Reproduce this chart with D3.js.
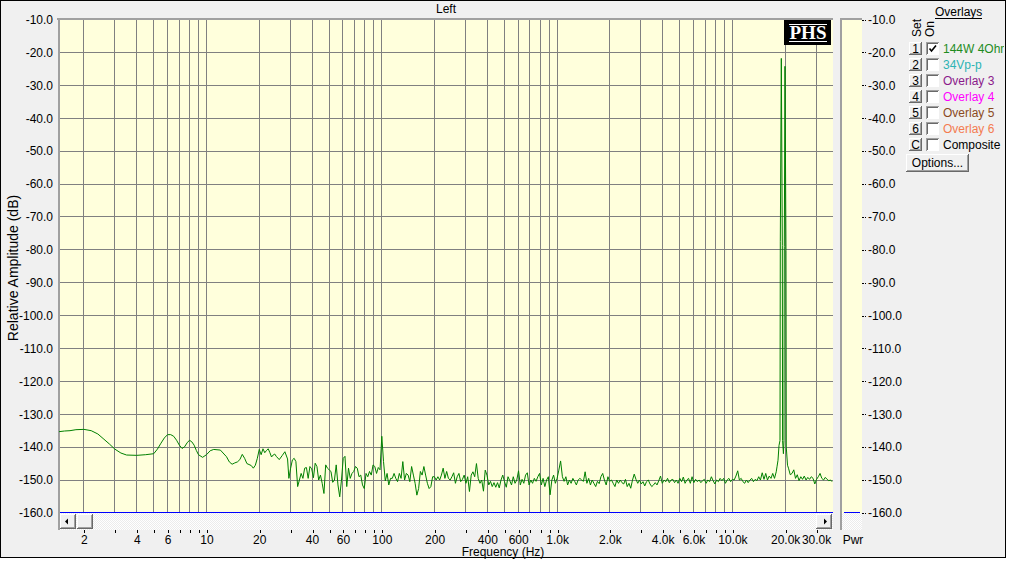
<!DOCTYPE html>
<html><head><meta charset="utf-8">
<script src="https://cdn.jsdelivr.net/npm/d3@7/dist/d3.min.js"></script>
<style>
html,body{margin:0;padding:0;background:#fff;}
svg{display:block;font-family:"Liberation Sans",Arial,sans-serif;font-size:12px;}
</style></head><body>
<svg id="c" width="1022" height="570"></svg>
<script>
// ---------------- data ----------------
const chartTitle = "Left";
const xTitle = "Frequency (Hz)";
const yTitle = "Relative Amplitude (dB)";
const pwrLabel = "Pwr";
const yTicks = [-10,-20,-30,-40,-50,-60,-70,-80,-90,-100,-110,-120,-130,-140,-150,-160];
const xGridHz = [2,3,4,5,6,7,8,9,10,20,30,40,50,60,70,80,90,100,200,300,400,500,600,700,800,900,
  1000,2000,3000,4000,5000,6000,7000,8000,9000,10000,20000,30000];
const xLabelHz = [2,4,6,10,20,40,60,100,200,400,600,1000,2000,4000,6000,10000,20000,30000];
const xLabelText = ["2","4","6","10","20","40","60","100","200","400","600","1.0k","2.0k","4.0k","6.0k","10.0k","20.0k","30.0k"];
const overlaySets = ["1","2","3","4","5","6","C"];
const overlayNames = ["144W 4Ohm","34Vp-p","Overlay 3","Overlay 4","Overlay 5","Overlay 6","Composite"];
const overlayColors = ["#1e8c1e","#2db4b4","#8b1a8b","#ff00ff","#8b4a1e","#f47c50","#000000"];
const overlayOn = [true,false,false,false,false,false,false];
const freqRange = [1.441, 36990];
const dbRange = [-160, -10];

// spectrum trace: [frequency Hz, level dB]
const lowBand = [
 [1.441,-135.3],[1.55,-135.1],[1.665,-135.0],[1.8,-134.7],[2.0,-134.6],[2.2,-135.0],[2.4,-136.0],
 [2.6,-137.6],[2.8,-139.1],[3.0,-140.6],[3.25,-141.8],[3.5,-142.4],[4.0,-142.5],[4.5,-142.3],
 [5.0,-142.0],[5.25,-140.6],[5.5,-138.8],[5.75,-137.2],[6.0,-136.2],[6.25,-136.2],[6.5,-136.7],
 [6.75,-137.9],[7.0,-139.4],[7.25,-140.4],[7.5,-139.9],[7.75,-138.7],[8.0,-137.9],[8.25,-138.4],
 [8.5,-139.4],[8.75,-141.0],[9.0,-142.3],[9.5,-143.1],[10,-142.3],[10.5,-141.1],[11,-140.7],
 [12,-140.9],[13,-142.9],[13.5,-144.5],[14,-145.2],[14.5,-144.8],[15,-144.5],[15.5,-143.8],
 [16,-142.2],[16.5,-143.4],[17,-145.0],[18,-145.6],[18.5,-146.4],[19,-145.5],[19.5,-143.4],
 [20,-140.7],[20.5,-142.3],[21,-140.5],[21.5,-141.7],[22,-141.0],[22.5,-140.5],[23,-141.7],
 [23.5,-143.0],[24,-142.4],[24.5,-142.1],[25,-142.8],[26,-143.8],[27,-142.6],[28,-141.4],[29,-143.6]
];
const midBand = [
 [29.51,-149.5],[30.20,-146.4],[30.90,-143.9],[31.62,-143.4],[32.36,-144.4],[33.11,-152.0],[33.88,-150.0],
 [34.67,-148.0],[35.48,-149.5],[36.31,-146.4],[37.15,-146.2],[38.02,-149.5],[38.90,-145.9],[39.81,-146.6],
 [40.74,-149.3],[41.69,-144.9],[42.66,-145.9],[43.65,-150.0],[44.67,-148.5],[45.71,-151.0],[46.77,-154.1],
 [47.86,-145.4],[48.98,-146.4],[50.12,-146.9],[51.29,-147.4],[52.48,-150.7],[53.70,-150.0],[54.95,-145.4],
 [56.23,-151.5],[57.54,-155.1],[58.88,-150.0],[60.26,-143.4],[61.66,-142.8],[63.10,-152.0],[64.57,-146.4],
 [66.07,-149.5],[67.61,-148.0],[69.18,-147.4],[70.79,-145.9],[72.44,-146.4],[74.13,-149.0],[75.86,-148.5],
 [77.62,-151.5],[79.43,-152.6],[81.28,-148.0],[83.18,-149.0],[85.11,-147.4],[87.10,-148.5],[89.13,-145.4],
 [91.20,-145.9],[93.33,-148.0],[95.50,-146.2],[97.72,-146.9],[100.0,-136.7],[102.3,-144.4],[104.7,-150.3],
 [107.2,-148.0],[109.6,-151.5],[112.2,-149.5],[114.8,-149.5],[117.5,-148.0],[120.2,-149.5],[123.0,-150.5],
 [125.9,-148.0],[128.8,-149.5],[131.8,-144.4],[134.9,-150.0],[138.0,-148.0],[141.3,-148.5],[144.5,-150.5],
 [147.9,-145.9],[151.4,-148.5],[154.9,-151.0],[158.5,-154.6],[162.2,-152.6],[166.0,-147.4],[169.8,-148.5],
 [173.8,-145.9],[177.8,-148.5],[182.0,-151.0],[186.2,-152.6],[190.5,-152.0],[195.0,-149.0],[199.5,-149.0],
 [204.2,-150.0],[208.9,-149.0],[213.8,-150.0],[218.8,-148.5],[223.9,-146.4],[229.1,-149.5],[234.4,-147.4],
 [239.9,-149.5],[245.5,-150.0],[251.2,-149.0],[257.0,-147.8],[263.0,-151.0],[269.2,-149.0],[275.4,-148.0],
 [281.8,-150.5],[288.4,-149.8],[295.1,-148.5],[302.0,-151.0],[309.0,-149.0],[316.2,-153.5],[323.6,-148.5],
 [331.1,-147.5],[338.8,-149.0],[346.7,-145.0],[354.8,-149.5],[363.1,-151.0],[371.5,-150.0],[380.2,-153.4],
 [389.0,-147.0],[398.1,-148.5],[407.4,-151.5],[416.9,-150.4],[426.6,-152.0],[436.5,-150.8],[446.7,-152.2],
 [457.1,-150.8],[467.7,-152.4],[478.6,-150.0],[489.8,-148.5],[501.2,-150.5],[512.9,-152.2],[524.8,-149.0],
 [537.0,-150.2],[549.5,-151.5],[562.3,-149.0],[575.4,-151.0],[588.8,-150.0],[602.6,-147.2],[616.6,-151.5],
 [631.0,-149.8],[645.7,-151.0],[660.7,-148.5],[676.1,-147.8],[691.8,-151.5],[707.9,-150.0],[724.4,-151.0],
 [741.3,-149.5],[758.6,-150.4],[776.2,-149.0],[794.3,-148.0],[812.8,-151.5],[831.8,-149.5],[851.1,-152.0],
 [871.0,-150.0],[891.3,-149.0],[912.0,-154.5],[933.3,-150.0],[955.0,-148.5],[977.2,-151.0]
];
const highBand = [
 [1000,-149.5],[1023,-147.0],[1047,-144.2],[1072,-149.0],[1096,-150.4],[1122,-149.0],[1148,-151.5],
 [1175,-150.0],[1202,-151.0],[1230,-149.5],[1259,-150.4],[1288,-151.5],[1318,-150.0],[1349,-149.5],
 [1380,-150.0],[1413,-150.4],[1445,-147.5],[1479,-151.0],[1514,-149.5],[1549,-151.5],[1585,-150.0],
 [1622,-151.0],[1660,-152.0],[1698,-150.4],[1738,-151.1],[1778,-149.0],[1820,-148.0],[1862,-150.0],
 [1905,-151.5],[1950,-149.0],[1995,-150.4],[2042,-150.0],[2089,-151.0],[2138,-152.0],[2188,-150.0],
 [2239,-151.0],[2291,-150.0],[2344,-150.8],[2399,-151.2],[2455,-149.8],[2512,-152.0],[2570,-151.0],
 [2630,-152.5],[2692,-150.0],[2754,-148.2],[2818,-149.8],[2884,-151.0],[2951,-150.0],[3020,-151.2],
 [3090,-150.5],[3162,-151.8],[3236,-150.5],[3311,-150.0],[3388,-151.2],[3467,-152.0],[3548,-151.5],
 [3631,-150.8],[3715,-151.5],[3802,-150.2],[3890,-148.8],[3981,-151.0],[4074,-150.0],[4169,-150.5],
 [4266,-149.5],[4365,-150.8],[4467,-150.0],[4571,-149.8],[4677,-150.8],[4786,-150.0],[4898,-151.0],
 [5012,-149.5],[5129,-150.5],[5248,-149.1],[5370,-151.0],[5495,-150.0],[5623,-149.5],[5754,-151.0],
 [5888,-149.0],[6026,-150.8],[6166,-149.8],[6310,-150.5],[6457,-150.0],[6607,-150.8],[6761,-150.2],
 [6918,-149.8],[7079,-151.0],[7244,-150.0],[7413,-150.5],[7586,-149.0],[7762,-150.2],[7943,-151.2],
 [8128,-150.0],[8318,-150.5],[8511,-149.5],[8710,-150.2],[8913,-149.5],[9120,-151.0],[9333,-150.0],
 [9550,-149.5],[9772,-150.5],[10000,-149.8],[10230,-150.0],[10470,-148.8],[10720,-147.2],[10960,-150.0],
 [11220,-149.5],[11480,-150.5],[11750,-151.0],[12020,-150.0],[12300,-150.8],[12590,-150.0],[12880,-149.5],
 [13180,-150.5],[13490,-149.8],[13800,-150.2],[14130,-149.0],[14450,-150.0],[14790,-147.8],[15140,-149.8],
 [15490,-148.0],[15850,-150.0],[16220,-148.8],[16600,-149.5],[16980,-148.0],[17380,-149.5],[17780,-147.5]
];
const toneBand = [
 [17960,-146.0],[18200,-144.0],[18440,-139.5],[18680,-138.0],[18760,-77.4],[19010,-21.8],[19260,-78.7],
 [19330,-138.0],[19540,-142.0],[19690,-138.0],[19770,-79.0],[19950,-24.2],[20210,-80.2],[20290,-140.0],
 [20620,-145.5],[20890,-146.4],[21380,-148.4],[21880,-148.0],[22390,-146.9],[22910,-149.5],[23440,-148.4],
 [23990,-150.2],[24550,-149.0],[25120,-149.8],[25700,-148.8],[26300,-150.0],[26920,-149.2],[27540,-149.8],
 [28180,-149.0],[28840,-149.5],[29510,-151.2],[30200,-149.8],[30900,-149.0],[31620,-148.0],[32360,-149.5],
 [33110,-150.0],[33880,-149.2],[34670,-149.8],[35480,-150.2],[36310,-150.0],[36990,-150.5]
];

// ---------------- drawing ----------------
const W = 1022, H = 570;
const L = 59, R = 832, T = 19.6, B = 512.9;
const svg = d3.select("#c");
const x = d3.scaleLog().domain(freqRange).range([L, R]);
const y = d3.scaleLinear().domain(dbRange).range([B, T]);
const cp = v => Math.floor(v) + 0.5;

svg.append("rect").attr("width", W).attr("height", H).attr("fill", "#ffffff");
svg.append("rect").attr("x", 0.5).attr("y", 0.5).attr("width", 1005).attr("height", 557)
  .attr("fill", "#f0f0f0").attr("stroke", "#000");

// plot background
svg.append("rect").attr("x", 59).attr("y", 19).attr("width", 774).attr("height", 494).attr("fill", "#ffffdc");
// scroll bar strip
const defs = svg.append("defs");
const pat = defs.append("pattern").attr("id", "dith").attr("width", 2).attr("height", 2).attr("patternUnits", "userSpaceOnUse");
pat.append("rect").attr("width", 2).attr("height", 2).attr("fill", "#ffffff");
pat.append("rect").attr("width", 1).attr("height", 1).attr("fill", "#ececec");
pat.append("rect").attr("x", 1).attr("y", 1).attr("width", 1).attr("height", 1).attr("fill", "#ececec");
svg.append("rect").attr("x", 60).attr("y", 513).attr("width", 773).attr("height", 17).attr("fill", "url(#dith)");

// grid
const grid = svg.append("g").attr("shape-rendering", "crispEdges");
grid.selectAll("line.h").data(yTicks.filter(v => v > -160)).join("line")
  .attr("x1", 60).attr("x2", 833).attr("y1", d => cp(y(d))).attr("y2", d => cp(y(d)))
  .attr("stroke", "#808080");
grid.selectAll("line.v").data(xGridHz).join("line")
  .attr("x1", d => cp(x(d))).attr("x2", d => cp(x(d))).attr("y1", 20).attr("y2", 512)
  .attr("stroke", "#808080");
grid.append("line").attr("x1", 59).attr("x2", 833).attr("y1", cp(y(-160))).attr("y2", cp(y(-160)))
  .attr("stroke", "#0000ff");
// sunken borders
svg.append("rect").attr("x", 57).attr("y", 18).attr("width", 776).attr("height", 2).attr("fill", "#a0a0a0");
svg.append("rect").attr("x", 58).attr("y", 18).attr("width", 2).attr("height", 512).attr("fill", "#a0a0a0");

// trace
defs.append("clipPath").attr("id", "plotclip").append("rect").attr("x", 59).attr("y", 19).attr("width", 774).attr("height", 494);
const trace = lowBand.concat(midBand, highBand, toneBand);
svg.append("path").datum(trace).attr("clip-path", "url(#plotclip)")
  .attr("fill", "none").attr("stroke", "#008000").attr("stroke-width", 1)
  .attr("d", d3.line().x(d => x(d[0])).y(d => y(d[1])));

// PHS logo
const logo = svg.append("g");
logo.append("rect").attr("x", 784).attr("y", 20).attr("width", 47).attr("height", 25).attr("fill", "#000");
logo.append("line").attr("x1", 789).attr("x2", 827).attr("y1", 24.5).attr("y2", 24.5).attr("stroke", "#fff");
logo.append("line").attr("x1", 789).attr("x2", 827).attr("y1", 41.5).attr("y2", 41.5).attr("stroke", "#fff");
logo.append("text").attr("x", 808).attr("y", 39).attr("text-anchor", "middle")
  .attr("font-family", "'Liberation Serif','Times New Roman',serif").attr("font-weight", "bold")
  .attr("font-size", 19).attr("fill", "#fff").text("PHS");

// scroll buttons
function button(g, bx, by, bw, bh) {
  g.append("rect").attr("x", bx).attr("y", by).attr("width", bw).attr("height", bh).attr("fill", "#f0f0f0");
  g.append("path").attr("d", `M${bx+0.5},${by+bh}V${by+0.5}H${bx+bw}`).attr("stroke", "#ffffff").attr("fill", "none");
  g.append("path").attr("d", `M${bx},${by+bh-0.5}H${bx+bw-0.5}V${by}`).attr("stroke", "#696969").attr("fill", "none");
  g.append("path").attr("d", `M${bx+1},${by+bh-1.5}H${bx+bw-1.5}V${by+1}`).attr("stroke", "#a0a0a0").attr("fill", "none");
}
const sb = svg.append("g").attr("shape-rendering", "crispEdges");
button(sb, 60, 514, 16, 15);
button(sb, 77, 514, 16, 15);
button(sb, 816, 514, 16, 15);
svg.append("path").attr("d", "M65,521.5L68,518.5V524.5Z").attr("fill", "#000");
svg.append("path").attr("d", "M827,521.5L824,518.5V524.5Z").attr("fill", "#000");

// axes
const xAxis = d3.axisBottom(x).tickValues(xGridHz).tickSize(3).tickPadding(2)
  .tickFormat(d => { const i = xLabelHz.indexOf(d); return i >= 0 ? xLabelText[i] : ""; });
const gx = svg.append("g").attr("transform", "translate(0,530)").call(xAxis);
gx.select(".domain").remove();
gx.selectAll(".tick line").attr("stroke", "#000").attr("shape-rendering", "crispEdges")
  .attr("transform", d => `translate(${cp(x(d)) - x(d)},0)`);
gx.selectAll("text").attr("font-size", 12).attr("font-family", "'Liberation Sans',Arial,sans-serif").attr("fill", "#000");

const yAxis = d3.axisLeft(y).tickValues(yTicks).tickSize(0).tickPadding(6).tickFormat(d => d.toFixed(1));
const gy = svg.append("g").attr("transform", `translate(${L},0)`).call(yAxis);
gy.select(".domain").remove();
gy.selectAll("text").attr("font-size", 12).attr("font-family", "'Liberation Sans',Arial,sans-serif").attr("fill", "#000");

// power bar
svg.append("rect").attr("x", 840).attr("y", 18).attr("width", 22).attr("height", 495).attr("fill", "#ffffdc");
svg.append("rect").attr("x", 842).attr("y", 513).attr("width", 20).attr("height", 17).attr("fill", "url(#dith)");
svg.append("rect").attr("x", 840).attr("y", 18).attr("width", 22).attr("height", 2).attr("fill", "#a0a0a0");
svg.append("rect").attr("x", 840).attr("y", 18).attr("width", 2).attr("height", 512).attr("fill", "#a0a0a0");
svg.append("line").attr("x1", 844).attr("x2", 860).attr("y1", cp(y(-160))).attr("y2", cp(y(-160)))
  .attr("stroke", "#0000ff").attr("shape-rendering", "crispEdges");
const yAxisR = d3.axisRight(y).tickValues(yTicks).tickSize(4).tickPadding(2).tickFormat(d => d.toFixed(1));
const gyr = svg.append("g").attr("transform", "translate(862,0)").call(yAxisR);
gyr.select(".domain").remove();
gyr.selectAll(".tick line").attr("stroke", "#000").attr("stroke-dasharray", "2,1").attr("shape-rendering", "crispEdges");
gyr.selectAll("text").attr("font-size", 12).attr("font-family", "'Liberation Sans',Arial,sans-serif").attr("fill", "#000");
svg.append("text").attr("x", 853).attr("y", 544).attr("text-anchor", "middle").attr("fill", "#000").text(pwrLabel);

// titles
svg.append("text").attr("x", 446).attr("y", 13).attr("text-anchor", "middle").attr("fill", "#000").text(chartTitle);
svg.append("text").attr("x", 503).attr("y", 556).attr("text-anchor", "middle").attr("fill", "#000").text(xTitle);
svg.append("text").attr("transform", "translate(18,268) rotate(-90)").attr("text-anchor", "middle")
  .attr("font-size", 14).attr("fill", "#000").text(yTitle);

// legend
defs.append("clipPath").attr("id", "legclip").append("rect").attr("x", 900).attr("y", 0).attr("width", 104).attr("height", 200);
const lg = svg.append("g").attr("clip-path", "url(#legclip)");
lg.append("text").attr("x", 935).attr("y", 16).attr("fill", "#000").text("Overlays");
lg.append("line").attr("x1", 935).attr("x2", 982).attr("y1", 18.5).attr("y2", 18.5).attr("stroke", "#000");
lg.append("text").attr("transform", "translate(920.5,37) rotate(-90)").attr("fill", "#000").text("Set");
lg.append("text").attr("transform", "translate(934,37) rotate(-90)").attr("fill", "#000").text("On");
const rowY = i => 42 + i * 16;
overlaySets.forEach((s, i) => {
  const g = lg.append("g").attr("shape-rendering", "crispEdges");
  button(g, 909, rowY(i), 13, 13);
  lg.append("text").attr("x", 915.5).attr("y", rowY(i) + 11).attr("text-anchor", "middle").attr("fill", "#000").text(s);
  const c = lg.append("g").attr("shape-rendering", "crispEdges");
  c.append("rect").attr("x", 926).attr("y", rowY(i)).attr("width", 13).attr("height", 13).attr("fill", "#fff");
  c.append("path").attr("d", `M926.5,${rowY(i)+13}V${rowY(i)+0.5}H939`).attr("stroke", "#a0a0a0").attr("fill", "none");
  c.append("path").attr("d", `M927.5,${rowY(i)+12}V${rowY(i)+1.5}H938`).attr("stroke", "#696969").attr("fill", "none");
  if (overlayOn[i]) {
    lg.append("path").attr("d", `M929.5,${rowY(i)+6.5}L931.5,${rowY(i)+9}L936,${rowY(i)+3.5}`)
      .attr("stroke", "#000").attr("stroke-width", 1.6).attr("fill", "none");
  }
  lg.append("text").attr("x", 943).attr("y", rowY(i) + 11).attr("fill", overlayColors[i]).text(overlayNames[i]);
});
const ob = svg.append("g").attr("shape-rendering", "crispEdges");
button(ob, 906, 154, 63, 18);
svg.append("text").attr("x", 937.5).attr("y", 167).attr("text-anchor", "middle").attr("fill", "#000").text("Options...");
</script>
</body></html>
